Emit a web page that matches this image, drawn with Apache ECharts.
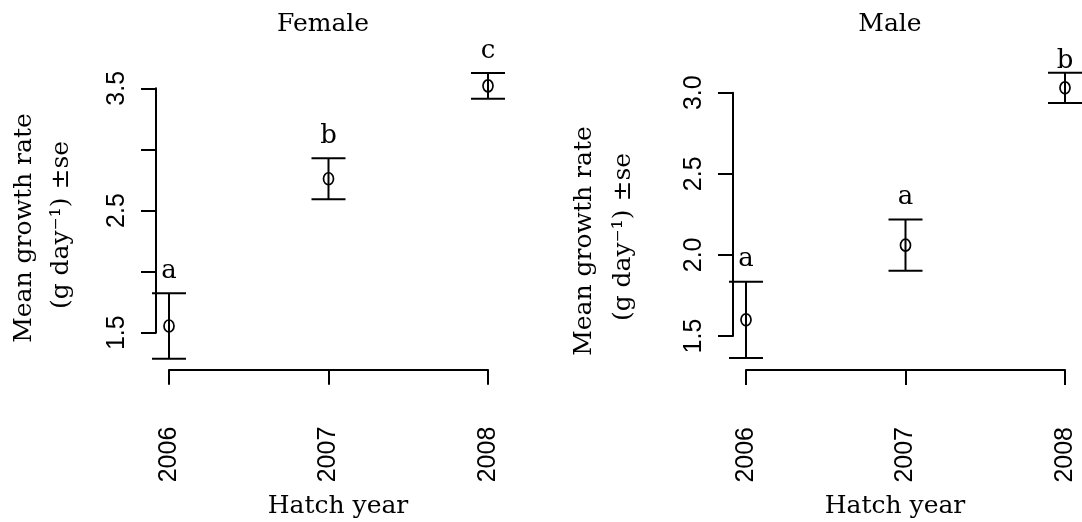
<!DOCTYPE html>
<html>
<head>
<meta charset="utf-8">
<script src="https://cdn.jsdelivr.net/npm/echarts@6/dist/echarts.min.js"></script>
<style>
  html, body { margin: 0; padding: 0; background: #fff; }
  #chart { width: 1082px; height: 522px; }
</style>
</head>
<body>
<div id="chart"></div>
<script>
// Hatch years on the x axis
const years = [2006, 2007, 2008];

// Female: mean growth rate (g/day), standard error, and significance letters
const femaleMean = [1.555, 2.76, 3.52];
const femaleSE = [0.268, 0.168, 0.106];
const femaleGroup = ['a', 'b', 'c'];

// Male: mean growth rate (g/day), standard error, and significance letters
const maleMean = [1.60, 2.06, 3.03];
const maleSE = [0.235, 0.158, 0.093];
const maleGroup = ['a', 'a', 'b'];

// Y tick labels that are printed (the others are ticks only)
const femaleTickLabels = ['1.5', '2.5', '3.5'];
const maleTickLabels = ['1.5', '2.0', '2.5', '3.0'];

const SERIF = '"DejaVu Serif", serif';
const SANS = '"Liberation Sans", Arial, sans-serif';
const LW = 2;
const FONT = '25px ' + SERIF;

function rows(means, ses, groups) {
  return years.map((y, i) => [y, means[i], ses[i], groups[i]]);
}

// error bar with caps, open circle at the mean and a letter above the bar;
// the letter never goes above topLimit (px) so it stays inside the figure
function makeErrorBar(topLimit) {
  return function (params, api) {
    const x = api.value(0), m = api.value(1), se = api.value(2);
    const label = api.value(3);
    const hi = api.coord([x, m + se]);
    const lo = api.coord([x, m - se]);
    const c = api.coord([x, m]);
    const cap = 17;
    const st = { stroke: '#000', lineWidth: LW, fill: null };
    return {
      type: 'group',
      children: [
        { type: 'line', shape: { x1: hi[0], y1: hi[1], x2: lo[0], y2: lo[1] }, style: st },
        { type: 'line', shape: { x1: hi[0] - cap, y1: hi[1], x2: hi[0] + cap, y2: hi[1] }, style: st },
        { type: 'line', shape: { x1: lo[0] - cap, y1: lo[1], x2: lo[0] + cap, y2: lo[1] }, style: st },
        { type: 'ellipse', shape: { cx: c[0], cy: c[1], rx: 5, ry: 6 }, style: { stroke: '#000', lineWidth: 1.7, fill: null } },
        { type: 'text', style: { text: label, x: hi[0], y: Math.max(hi[1] - 22, topLimit), align: 'center', verticalAlign: 'middle',
            font: '26px ' + SERIF, fill: '#000' } }
      ]
    };
  };
}

function axisPair(gridIndex, yMin, yMax, tickLabels) {
  return {
    x: {
      gridIndex: gridIndex, type: 'value', min: 2006, max: 2008, interval: 1,
      axisLine: { show: true, lineStyle: { color: '#000', width: LW } },
      axisTick: { show: true, length: 15, lineStyle: { color: '#000', width: LW } },
      axisLabel: { rotate: 90, fontSize: 25, fontFamily: SANS, color: '#000', margin: 57,
        formatter: v => String(v) },
      splitLine: { show: false }
    },
    y: {
      gridIndex: gridIndex, type: 'value', min: yMin, max: yMax, interval: 0.5,
      axisLine: { show: true, lineStyle: { color: '#000', width: LW } },
      axisTick: { show: true, length: 15, lineStyle: { color: '#000', width: LW } },
      axisLabel: {
        rotate: 90, fontSize: 25, fontFamily: SANS, color: '#000', margin: 26,
        formatter: v => { const s = v.toFixed(1); return tickLabels.indexOf(s) >= 0 ? s : ''; }
      },
      splitLine: { show: false }
    }
  };
}

const fAx = axisPair(0, 1.5, 3.5, femaleTickLabels);
const mAx = axisPair(1, 1.5, 3.0, maleTickLabels);
// axis lines sit a little away from the data area, as in base-R style plots
fAx.x.offset = 37; fAx.y.offset = 13;
mAx.x.offset = 34; mAx.y.offset = 13;

const chart = echarts.init(document.getElementById('chart'), null, { renderer: 'canvas' });

function titleText(x, y, text) {
  return { type: 'text', x: x, y: y, style: { text: text, font: FONT, fill: '#000', align: 'center', verticalAlign: 'middle' } };
}
function yTitle(x, y, text) {
  return { type: 'text', x: x, y: y, rotation: Math.PI / 2, style: { text: text, font: FONT, fill: '#000', align: 'center', verticalAlign: 'middle' } };
}

chart.setOption({
  animation: false,
  backgroundColor: '#fff',
  grid: [
    { left: 169, right: 594, top: 88.3, bottom: 189.3 },
    { left: 746, right: 17, top: 92.7, bottom: 186 }
  ],
  xAxis: [fAx.x, mAx.x],
  yAxis: [fAx.y, mAx.y],
  graphic: [
    titleText(323, 24, 'Female'),
    titleText(890, 24, 'Male'),
    titleText(338, 506, 'Hatch year'),
    titleText(895, 506, 'Hatch year'),
    yTitle(24, 228, 'Mean growth rate'),
    yTitle(61, 225, '(g day⁻¹) ±se'),
    yTitle(584, 241, 'Mean growth rate'),
    yTitle(623, 237, '(g day⁻¹) ±se')
  ],
  series: [
    { type: 'custom', xAxisIndex: 0, yAxisIndex: 0, clip: false, renderItem: makeErrorBar(0),
      data: rows(femaleMean, femaleSE, femaleGroup), encode: { x: 0, y: 1 } },
    { type: 'custom', xAxisIndex: 1, yAxisIndex: 1, clip: false, renderItem: makeErrorBar(61),
      data: rows(maleMean, maleSE, maleGroup), encode: { x: 0, y: 1 } }
  ]
});
</script>
</body>
</html>
